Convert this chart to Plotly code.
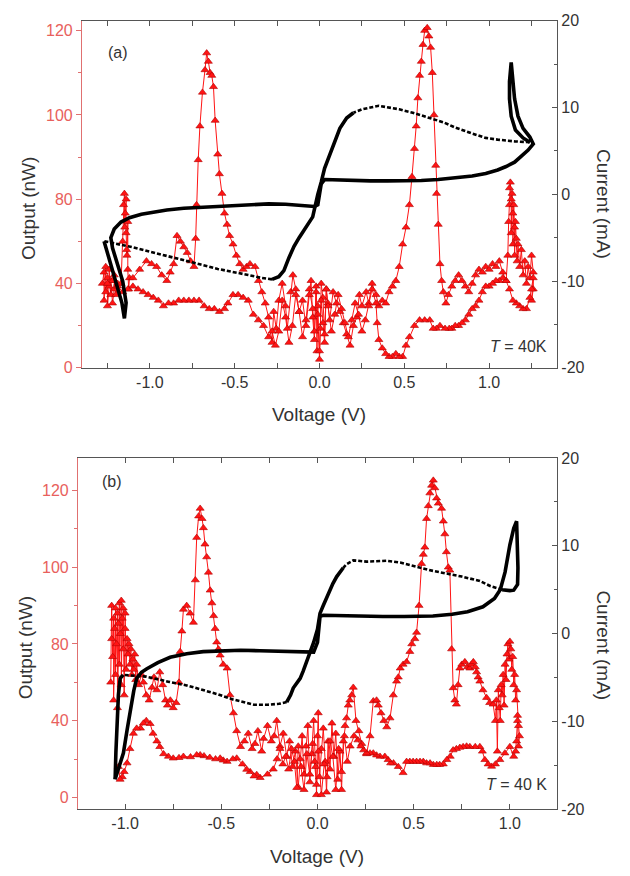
import plotly.graph_objects as go

# ---------------- Panel (a) : Output (red triangles) ----------------
a_out_fwd_v = [-1.28,-1.27,-1.27,-1.26,-1.26,-1.25,-1.25,-1.24,-1.24,-1.23,-1.23,-1.22,-1.21,-1.21,-1.20,-1.19,
               -1.17,-1.16,-1.155,-1.15,-1.148,-1.145,-1.14,-1.14,-1.137,-1.135,-1.13,-1.13,-1.125,-1.12,
               -1.10,-1.06,-1.02,-0.99,-0.96,-0.93,-0.90,-0.88,-0.86,-0.84,-0.82,-0.80,-0.78,-0.76,-0.74,
               -0.73,-0.725,-0.715,-0.705,-0.69,-0.675,-0.665,-0.655,-0.645,-0.635,-0.625,-0.615,-0.60,-0.59,-0.575,-0.56,-0.545,-0.53,-0.51,-0.49,-0.47,-0.45,-0.43,-0.41,-0.38,
               -0.36,-0.34,-0.32,-0.30,-0.28,-0.27,-0.255,-0.24,-0.22,-0.20,-0.19,-0.17,-0.157,-0.14,-0.12,-0.10,-0.08,-0.06,-0.05,-0.04,
               -0.03,-0.02,-0.015,-0.01,0.0,0.005,0.01,0.02,0.03,0.04,0.05,0.06,0.08,0.10,0.12,0.14,0.16,0.18,0.20,0.22,
               0.235,0.25,0.275,0.29,0.31,0.333,0.35,0.37,0.39,0.41,0.43,0.45,
               0.47,0.49,0.51,0.53,0.545,0.56,0.57,0.58,0.59,0.60,0.61,0.62,0.635,0.645,0.655,0.665,0.675,0.685,0.69,0.70,0.71,0.72,0.73,0.745,
               0.76,0.78,0.80,0.82,0.84,0.86,0.88,0.90,0.92,0.94,0.96,0.98,1.00,1.02,1.04,1.06,1.08,1.10,
               1.11,1.115,1.12,1.12,1.125,1.13,1.13,1.135,1.14,1.14,1.145,1.15,1.15,1.155,1.16,1.165,1.17,1.18,1.19,1.20,1.21,1.22,1.23,1.24,1.25,1.26,1.26,1.25]
a_out_fwd_p = [30,34,24,36,27,32,22,29,35,26,31,23,28,33,26,30,
               30,45,58,62,50,55,60,48,42,40,52,35,28,32,
               32,35,38,37,36,33,31,34,37,47,45,43,41,38,36,
               46,58,74,86,98,106,112,109,105,104,100,88,76,69,62,55,51,47,44,40,37,35,36,37,36,
               31,27,23,18,9,20,14,24,30,22,14,27,33,28,20,24,15,26,31,18,
               10,29,6,22,3,14,30,25,12,28,23,17,27,23,20,16,12,8,15,18,
               26,22,27,23,30,26,22,24,23,27,29,31,
               36,44,50,58,68,78,86,96,104,109,115,120,121,118,114,105,90,72,62,51,37,31,27,23,
               26,29,31,33,31,29,27,30,33,35,34,36,35,37,36,38,34,31,
               40,52,64,58,66,60,48,62,55,44,58,50,40,52,46,38,44,36,42,33,38,30,36,32,40,34,28,24]
a_out_ret_v = [1.26,1.25,1.24,1.22,1.20,1.18,1.16,1.14,1.12,1.10,1.08,1.06,1.04,1.02,1.00,0.98,0.96,0.94,0.92,0.90,
               0.88,0.86,0.84,0.82,0.80,0.78,0.765,0.74,0.71,0.69,0.67,0.65,0.62,0.59,0.56,0.53,0.51,0.49,0.47,0.45,
               0.43,0.41,0.39,0.37,0.35,0.34,0.333,
               0.31,0.29,0.27,0.25,0.23,0.21,0.19,0.17,0.15,0.13,0.11,0.09,0.07,0.05,0.04,0.03,0.02,0.01,0.0,-0.01,
               -0.02,-0.03,-0.04,-0.06,-0.08,-0.10,-0.12,-0.14,-0.16,-0.18,-0.20,-0.22,-0.24,-0.26,-0.28,-0.30,
               -0.33,-0.36,-0.39,-0.42,-0.45,-0.48,-0.51,-0.54,-0.56,-0.59,-0.62,-0.65,-0.68,-0.71,-0.74,-0.77,-0.80,-0.83,-0.86,-0.89,
               -0.92,-0.95,-0.98,-1.01,-1.04,-1.07,-1.10,-1.13,-1.16,-1.19,-1.22,-1.25]
a_out_ret_p = [32,28,25,21,21,22,23,24,28,31,32,31,31,30,29,29,27,24,22,21,
               19,17,16,15,15,14,14,14,15,14,14,17,17,17,15,11,8,4,4,5,
               4,4,5,7,10,16,23,
               28,22,17,13,19,23,17,11,16,21,26,19,13,22,28,9,16,24,6,19,
               27,13,21,28,17,11,20,26,15,9,18,24,13,8,13,11,
               15,17,19,24,25,26,26,23,21,20,21,21,22,24,24,24,24,24,23,23,
               22,24,25,26,27,28,29,28,27,29,31,30]

# ---------------- Panel (a) : Current (black loop) ----------------
a_cur_s1_v = [-1.27,-1.24,-1.20,-1.165,-1.15,-1.14,-1.16,-1.19,-1.22,-1.23,
              -1.21,-1.17,-1.12,-1.05,-1.00,-0.90,-0.80,-0.70,-0.60,-0.50,
              -0.40,-0.30,-0.20,-0.10,-0.03,-0.01,0.0,0.01,0.03,0.10,
              0.20,0.30,0.40,0.50,0.60,0.70,0.80,0.90,0.98,1.05,
              1.10,1.15,1.19,1.23,1.26,1.24,1.20,1.17,1.15,1.14,
              1.13,1.12,1.12,1.13,1.155,1.20,1.24]
a_cur_s1_i = [-5.4,-7.5,-10,-12.5,-14.3,-12.5,-10,-8,-6.2,-5.0,
              -4.0,-3.2,-2.7,-2.3,-2.1,-1.8,-1.6,-1.5,-1.35,-1.25,
              -1.15,-1.1,-1.15,-1.25,-1.4,-1.2,0.0,1.2,1.7,1.65,
              1.6,1.55,1.55,1.55,1.6,1.7,1.85,2.1,2.4,2.8,
              3.2,3.7,4.4,5.1,5.8,6.6,7.6,9.0,11,13,
              15.2,13,11,9.0,7.4,6.5,6.0]
a_cur_d1_v = [1.24,1.15,1.05,0.98,0.90,0.80,0.73,0.65,0.55,0.47,0.40,0.35,0.30,0.25,0.20]
a_cur_d1_i = [6.0,6.1,6.3,6.5,7.0,7.7,8.3,8.8,9.4,9.8,10.0,10.2,10.0,9.8,9.4]
a_cur_s2_v = [0.20,0.16,0.12,0.08,0.05,0.03,0.01,-0.01,-0.04,-0.07,-0.10,-0.12,-0.15,-0.18,-0.21,-0.24,-0.28]
a_cur_s2_i = [9.4,8.8,7.6,5.6,4.2,3.0,1.4,0.0,-2.6,-3.6,-4.4,-5.0,-6.0,-7.3,-8.8,-9.5,-9.8]
a_cur_d2_v = [-0.28,-0.35,-0.42,-0.50,-0.60,-0.70,-0.80,-0.90,-1.00,-1.10,-1.20,-1.27]
a_cur_d2_i = [-9.8,-9.6,-9.3,-9.0,-8.6,-8.1,-7.6,-7.1,-6.6,-6.1,-5.7,-5.4]

# ---------------- Panel (b) : Output (red triangles) ----------------
b_out_fwd_v = [-1.075,-1.07,-1.07,-1.065,-1.06,-1.06,-1.055,-1.05,-1.05,-1.045,
               -1.04,-1.04,-1.035,-1.03,-1.03,-1.025,-1.02,-1.02,-1.015,-1.01,
               -1.01,-1.005,-1.0,-1.0,-0.995,-0.99,-0.985,-0.98,-0.975,-0.97,
               -0.965,-0.96,-0.955,-0.95,-0.945,-0.94,
               -0.93,-0.915,-0.905,-0.89,-0.875,-0.86,-0.85,-0.835,-0.82,-0.805,
               -0.79,-0.78,-0.765,-0.75,-0.735,-0.72,-0.714,-0.705,-0.697,-0.68,
               -0.662,-0.645,-0.635,-0.628,-0.618,-0.61,-0.60,-0.593,-0.585,-0.576,
               -0.567,-0.558,-0.549,-0.54,-0.532,-0.524,-0.515,-0.506,-0.49,-0.47,
               -0.455,-0.437,-0.42,-0.40,
               -0.38,-0.36,-0.34,-0.325,-0.31,-0.29,-0.28,-0.26,-0.24,-0.225,
               -0.212,-0.195,-0.178,-0.16,-0.145,-0.13,-0.115,-0.10,-0.09,-0.08,
               -0.07,-0.06,-0.05,-0.04,-0.03,-0.02,-0.01,-0.005,0.0,0.004,
               0.01,0.02,0.03,0.04,0.047,0.055,0.065,0.075,0.085,0.095,
               0.105,0.117,0.125,0.134,0.143,0.151,0.16,0.168,0.178,0.186,
               0.2,0.215,0.23,0.255,0.273,0.29,0.307,0.316,0.33,0.345,
               0.36,0.377,0.394,0.411,0.42,0.43,0.445,0.463,0.48,0.49,
               0.506,0.515,0.528,0.541,0.55,0.558,0.567,0.576,0.584,0.593,
               0.602,0.61,0.619,0.628,0.645,0.654,0.662,0.67,0.68,0.688,
               0.697,0.705,0.714,0.722,0.731,0.74,0.75,0.766,0.78,0.792,
               0.80,0.81,0.82,0.827,0.835,0.844,0.86,0.879,0.895,0.913,0.925,
               0.93,0.935,0.94,0.945,0.95,0.955,0.96,0.965,0.97,0.975,
               0.98,0.985,0.99,0.995,1.0,1.005,1.01,1.015,1.02,1.025,
               1.03,1.035,1.04,1.045,1.05,1.045,1.04,1.035,1.03,1.02]
b_out_fwd_p = [45,62,75,55,70,38,66,74,48,60,
               72,35,68,76,52,64,77,44,70,58,
               74,40,66,72,50,62,56,60,52,58,
               48,54,50,56,46,52,
               44,48,45,40,38,43,47,42,49,44,
               38,36,38,35,37,45,57,65,73.5,75,
               72,68.4,85,101.6,110,113,109,105.4,99,94,
               88,81,76,71,66,60.7,58,55.6,52,50.5,
               40,33,26,19.8,
               22,25,19,21,26,18,23,28,22,24,
               30,20,25,16,22,12,18,4,15,24,
               9,20,28,6,17,30,12,1,24,33,
               8,19,27,14,2,22,11,29,16,25,
               7,18,3,22,28,31,36,38,40,43,
               30,26,21,17,24,37.7,38,36,33,30,
               27.5,31,40,45.4,47,50.5,52,53,57,60,
               62,64.5,75,91.4,95,97.8,109,114,119,122,
               124,121,117,115,113,108,103,96,90,88.8,
               58,42.8,38,36.4,44,50.5,52,53,51,50.5,
               52,53,51,49,47,45.4,42,39,37,36.4,30,
               38,18,42,35,30,44,40,48,36,52,
               46,56,60,54,61,58,50,55,44,48,
               38,42,32,28,24,20,30,22,18,16]
b_out_ret_v = [1.0,0.974,0.948,0.925,0.905,0.887,0.87,0.857,0.844,0.82,
               0.792,0.775,0.757,0.74,0.722,0.705,0.69,0.672,0.654,0.635,
               0.62,0.602,0.585,0.567,0.55,0.533,0.515,0.497,0.48,0.463,
               0.445,0.42,0.395,0.38,0.367,0.35,0.325,0.307,0.29,0.273,
               0.255,0.24,0.225,0.21,0.19,
               0.17,0.155,0.14,0.125,0.11,0.095,0.08,0.065,0.05,0.035,
               0.02,0.005,-0.005,-0.015,-0.025,-0.04,-0.055,-0.07,-0.085,-0.10,
               -0.108,-0.12,-0.135,-0.15,-0.165,-0.18,-0.195,-0.21,
               -0.23,-0.26,-0.298,-0.316,-0.33,-0.35,-0.368,-0.39,-0.42,-0.44,
               -0.47,-0.49,-0.506,-0.53,-0.56,-0.59,-0.61,-0.628,-0.66,-0.697,
               -0.72,-0.75,-0.775,-0.80,-0.82,-0.835,-0.855,-0.87,-0.89,-0.905,
               -0.92,-0.94,-0.957,-0.975,-0.99,-1.005,-1.015,-1.026,-1.035]
b_out_ret_p = [19.8,17.3,14.7,13,12.1,13,14.7,18,19.8,19.8,
               19.8,20,19.8,19.5,19,18.5,16,14.7,13,12.8,
               12.8,12.8,13.4,13.4,14,14,14,14,14,14,
               9.6,12,13.4,13.4,14.7,16,16,16.5,17.3,17.3,
               17.3,18.5,20,22.4,24,
               20,14,24,10,19,3,16,22,8,13,
               1,18,5,14,21,9,17,3,12,20,
               3.8,14,19,11,16,13,19,15,
               11,9,7.7,8.9,8.3,10,10.9,13,15.3,15,
               14,14.5,15.3,15,15.6,16.2,16.6,16.6,15.8,16,
               15.5,15.3,16,17,19.8,22,25,28.8,30,29,
               27,27,25,19,13.4,10,8,7,12]

# ---------------- Panel (b) : Current (black loop) ----------------
b_cur_s1_v = [-1.052,-1.03,-1.009,-0.99,-0.974,-0.955,-0.94,-0.915,-0.887,-0.83,
              -0.766,-0.68,-0.594,-0.50,-0.40,-0.30,-0.20,-0.10,-0.02,0.0,
              0.013,0.03,0.10,0.20,0.34,0.45,0.60,0.70,0.78,0.86,
              0.92,0.95,0.975,1.00,1.02,1.035,1.04,1.042,1.04,1.02,
              1.00,0.96]
b_cur_s1_i = [-16.6,-15,-13.6,-11,-8.8,-6.5,-5.1,-4.4,-4.0,-3.3,
              -2.7,-2.3,-2.05,-1.95,-1.9,-1.95,-2.0,-2.1,-2.1,-1.0,
              1.95,2.1,2.05,2.0,1.95,1.95,2.0,2.2,2.5,3.06,
              4.0,5.0,7.0,10.1,12.0,12.8,10,7.5,5.6,4.95,
              4.9,5.0]
b_cur_d1_v = [0.96,0.90,0.844,0.75,0.60,0.50,0.43,0.36,0.30,0.255,0.186,0.15,0.134]
b_cur_d1_i = [5.0,5.4,6.0,6.5,7.15,7.7,8.1,8.3,8.2,8.2,8.35,7.9,7.5]
b_cur_s2_v = [0.134,0.10,0.08,0.05,0.03,0.013,0.0,-0.02,-0.04,-0.056,-0.075,-0.09,-0.11,-0.126,-0.14,-0.16]
b_cur_s2_i = [7.5,6.5,5.7,4.3,3.2,2.3,0.5,-1.0,-2.3,-3.25,-4.3,-5.1,-5.8,-6.2,-7.0,-7.8]
b_cur_d2_v = [-0.16,-0.20,-0.26,-0.33,-0.44,-0.52,-0.60,-0.68,-0.77,-0.85,-0.89,-0.95,-1.01]
b_cur_d2_i = [-7.8,-8.0,-8.1,-8.1,-7.5,-6.9,-6.4,-5.9,-5.5,-5.1,-4.9,-4.8,-4.7]
b_cur_s3_v = [-1.01,-1.026,-1.035,-1.042,-1.048,-1.052]
b_cur_s3_i = [-4.7,-5.1,-7.0,-10,-13.5,-16.6]

# ---------------- Tick labels ----------------
volt_tickvals = [-1.0, -0.5, 0.0, 0.5, 1.0]
volt_ticktext = ['-1.0', '-0.5', '0.0', '0.5', '1.0']
out_tickvals = [0, 30, 60, 90, 120]
out_ticktext = ['0', '40', '80', '100', '120']
cur_tickvals = [-20, -10, 0, 10, 20]
cur_ticktext = ['-20', '-10', '0', '10', '20']

FONT = "Liberation Sans, Arial, sans-serif"
RED = "#ff1414"
RED_EDGE = "#b00000"
AXRED = "#e07070"
GREY = "#555555"
TXT = "#333333"

W, H = 630, 876
fig = go.Figure()


def add_current(vs, cs, xa, ya, dashed):
    fig.add_trace(go.Scatter(
        x=vs, y=cs, xaxis=xa, yaxis=ya, mode="lines",
        line=dict(color="black", width=2.6 if dashed else 3.6,
                  dash="4px,2px" if dashed else "solid"),
        showlegend=False, hoverinfo="skip"))


def add_output(vs, ps, xa, ya):
    fig.add_trace(go.Scatter(
        x=vs, y=ps, xaxis=xa, yaxis=ya, mode="lines+markers",
        line=dict(color=RED, width=1),
        marker=dict(symbol="triangle-up", size=7, color=RED,
                    line=dict(color=RED_EDGE, width=0.6)),
        showlegend=False, hoverinfo="skip"))


# panel (a)
add_current(a_cur_s1_v, a_cur_s1_i, "x", "y2", False)
add_current(a_cur_d1_v, a_cur_d1_i, "x", "y2", True)
add_current(a_cur_s2_v, a_cur_s2_i, "x", "y2", False)
add_current(a_cur_d2_v, a_cur_d2_i, "x", "y2", True)
add_output(a_out_fwd_v + a_out_ret_v, a_out_fwd_p + a_out_ret_p, "x", "y")

# panel (b)
add_current(b_cur_s1_v, b_cur_s1_i, "x2", "y4", False)
add_current(b_cur_d1_v, b_cur_d1_i, "x2", "y4", True)
add_current(b_cur_s2_v, b_cur_s2_i, "x2", "y4", False)
add_current(b_cur_d2_v, b_cur_d2_i, "x2", "y4", True)
add_current(b_cur_s3_v, b_cur_s3_i, "x2", "y4", False)
add_output(b_out_fwd_v + b_out_ret_v, b_out_fwd_p + b_out_ret_p, "x2", "y3")


def xax(domain, rng, anchor):
    return dict(domain=domain, range=rng, anchor=anchor,
                tickmode="array", tickvals=volt_tickvals, ticktext=volt_ticktext,
                ticks="inside", ticklen=5, tickwidth=1, tickcolor=GREY,
                minor=dict(tickmode="linear", tick0=0, dtick=0.25, ticks="inside",
                           ticklen=3, tickcolor=GREY, showgrid=False),
                showline=True, linecolor=GREY, linewidth=1.2, mirror="allticks",
                showgrid=False, zeroline=False,
                tickfont=dict(family=FONT, size=16, color=TXT))


def yleft(domain, rng, anchor):
    return dict(domain=domain, range=rng, anchor=anchor,
                tickmode="array", tickvals=out_tickvals, ticktext=out_ticktext,
                ticks="outside", ticklen=5, tickwidth=1, tickcolor=AXRED,
                minor=dict(tickmode="linear", tick0=0, dtick=15, ticks="outside",
                           ticklen=3, tickcolor=AXRED, showgrid=False),
                showline=True, linecolor=AXRED, linewidth=1.2, mirror=False,
                showgrid=False, zeroline=False,
                tickfont=dict(family=FONT, size=16, color="#e8605c"))


def yright(overlay, anchor):
    return dict(overlaying=overlay, side="right", anchor=anchor, range=[-20, 20],
                tickmode="array", tickvals=cur_tickvals, ticktext=cur_ticktext,
                ticks="inside", ticklen=5, tickwidth=1, tickcolor=GREY,
                minor=dict(tickmode="linear", tick0=0, dtick=5, ticks="inside",
                           ticklen=3, tickcolor=GREY, showgrid=False),
                showline=True, linecolor=GREY, linewidth=1.2,
                showgrid=False, zeroline=False,
                tickfont=dict(family=FONT, size=16, color=TXT))


ta = [82 / W, 557 / W]
tb = [78 / W, 557 / W]
ya_dom = [1 - 367 / H, 1 - 13 / H]
yb_dom = [1 - 817 / H, 1 - 459 / H]

fig.update_layout(
    width=W, height=H, margin=dict(l=0, r=0, t=0, b=0),
    paper_bgcolor="white", plot_bgcolor="white", showlegend=False,
    font=dict(family=FONT, color=TXT),
    xaxis=xax(ta, [-1.4, 1.4], "y"),
    yaxis=yleft(ya_dom, [0, 123.5], "x"),
    yaxis2=yright("y", "x"),
    xaxis2=xax(tb, [-1.245, 1.245], "y3"),
    yaxis3=yleft(yb_dom, [-4.6, 132.7], "x2"),
    yaxis4=yright("y3", "x2"),
)


def ann(text, x, y, size=19, angle=0, xanchor="center", color=TXT):
    fig.add_annotation(text=text, x=x / W, y=1 - y / H, xref="paper", yref="paper",
                       showarrow=False, textangle=angle, xanchor=xanchor, yanchor="middle",
                       font=dict(family=FONT, size=size, color=color))


ann("Voltage (V)", 319, 415)
ann("Voltage (V)", 317, 865)
ann("Output (nW)", 28, 205, angle=-90)
ann("Output (nW)", 25, 653, angle=-90)
ann("Current (mA)", 604, 200, angle=90)
ann("Current (mA)", 604, 650, angle=90)
ann("(a)", 118, 45, size=16)
ann("(b)", 112, 483, size=16)
ann("<i>T</i> = 40K", 549, 345, size=16, xanchor="right")
ann("<i>T</i> = 40 K", 549, 792, size=16, xanchor="right")

fig.write_html("out.html",
               config={"displayModeBar": False},
               post_script="document.body.style.margin='0';document.body.style.overflow='hidden';")
